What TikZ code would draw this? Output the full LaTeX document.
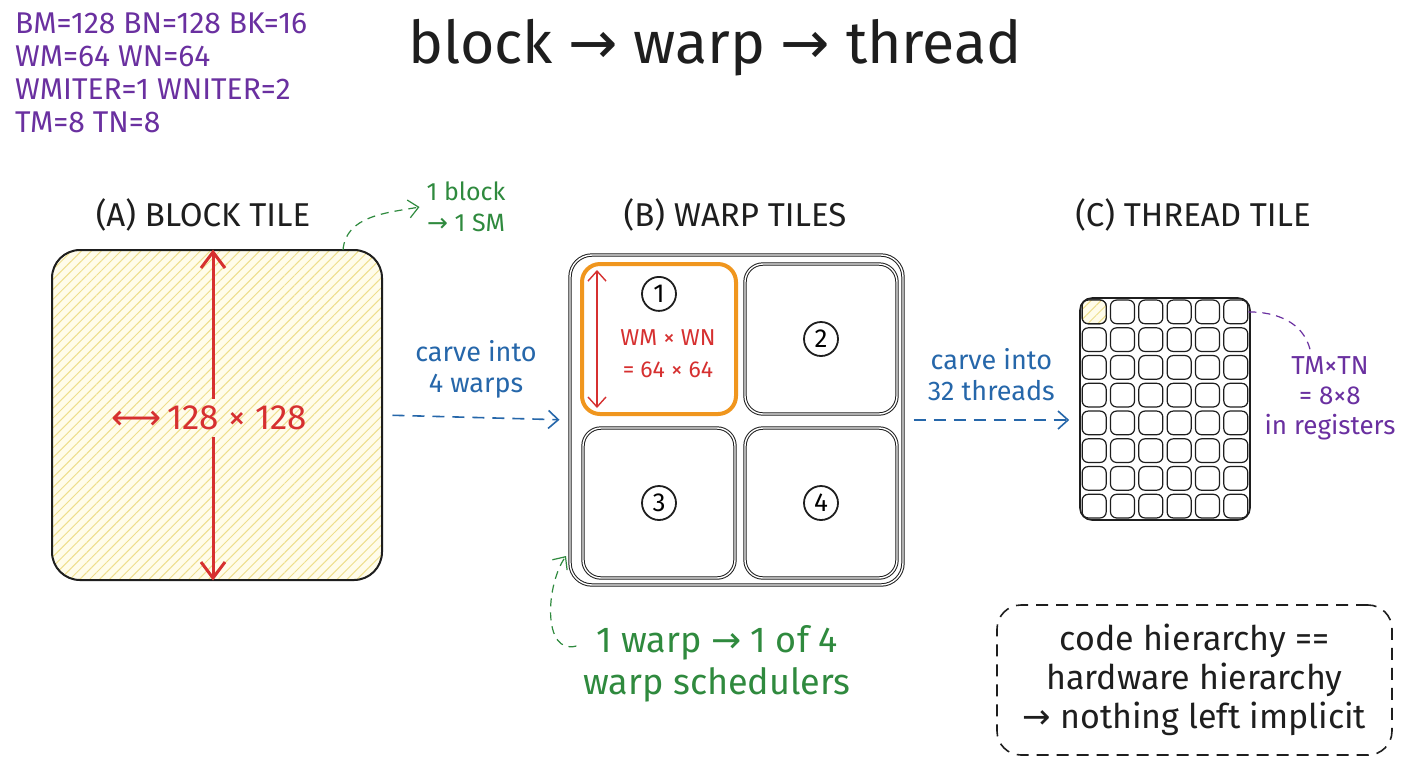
\documentclass[tikz,border=0pt]{standalone}
\usepackage{fontspec}
\setmainfont{Fira Sans}
\newfontfamily\arrowfont{DejaVu Sans}
\newcommand{\toarr}{{\arrowfont →}}
\usepackage{xcolor}
\usetikzlibrary{positioning,calc,arrows.meta,patterns.meta}

\definecolor{inkpurple}{RGB}{106,48,160}
\definecolor{inkgreen}{RGB}{47,138,62}
\definecolor{inkblue}{RGB}{38,103,170}
\definecolor{inkred}{RGB}{214,48,48}
\definecolor{inkorange}{RGB}{240,150,30}
\definecolor{hatch}{RGB}{238,222,140}
\definecolor{paleyellow}{RGB}{255,252,234}
\definecolor{ink}{RGB}{30,30,30}

\begin{document}
\begin{tikzpicture}[x=0.5pt,y=-0.5pt,
    sketch/.style={draw=ink, line width=0.5pt, double=white, double distance=0.7pt},
    hdr/.style={font=\fontsize{16.5}{19}\selectfont, text=ink},
    note/.style={font=\fontsize{13.5}{15.5}\selectfont, align=center},
    numcircle/.style={circle, draw=ink, line width=0.9pt, inner sep=0pt, minimum size=17pt, font=\fontsize{13}{13}\selectfont},
    hatched/.style={preaction={fill=paleyellow}, pattern={Lines[angle=45,distance=3.5pt,line width=0.5pt]}, pattern color=hatch},
    tilebox/.style={sketch, rounded corners=9pt, minimum width=76pt, minimum height=75pt},
    cellbox/.style={draw=ink, line width=0.6pt, rounded corners=3pt, minimum width=12pt, minimum height=11.8pt, inner sep=0pt},
    barb/.style={-{Straight Barb[length=5pt,width=9pt]}},
    carve/.style={draw=inkblue, line width=0.8pt, dash pattern=on 6pt off 4pt, barb, shorten <=5pt, shorten >=5pt},
]
    \useasboundingbox (0,0) rectangle (1408,768);
    \fill[white] (0,0) rectangle (1408,768);

    % parameters and title
    \node[anchor=north west, align=left, text=inkpurple, font=\fontsize{15}{16.5}\selectfont] (params) at (8,6)
        {BM=128 BN=128 BK=16\\WM=64 WN=64\\WMITER=1 WNITER=2\\TM=8 TN=8};
    \node[text=ink, font=\fontsize{29.5}{31}\selectfont] (title) at (715,48) {block \toarr\ warp \toarr\ thread};

    % (A) block tile
    \node[hdr] (hdrA) at (203,215) {(A) BLOCK TILE};
    \node[draw=ink, line width=1pt, rounded corners=14pt, hatched, minimum width=165pt, minimum height=165pt] (blockA) at (217,415) {};
    \node[text=inkred, font=\fontsize{17.5}{19}\selectfont] (dimA) at (209,418) {{\arrowfont ⟷}\,128 × 128};
    \draw[inkred, line width=1.5pt, -{Straight Barb[length=8pt,width=12pt]}] ([xshift=-2pt]dimA.north -| blockA.north) -- ([xshift=-2pt]blockA.north);
    \draw[inkred, line width=1.5pt, -{Straight Barb[length=8pt,width=12pt]}] ([xshift=-2pt]dimA.south -| blockA.south) -- ([xshift=-2pt]blockA.south);

    \node[note, font=\fontsize{12.5}{15.5}\selectfont, text=inkgreen] (oneblock) at (466,207) {1 block\\\toarr\ 1 SM};
    \coordinate (smfrom) at (343,250);
    \draw[inkgreen, line width=0.6pt, dash pattern=on 4pt off 3pt, barb] (smfrom) to[out=85,in=190] (oneblock.west);

    % (B) warp tiles
    \node[hdr] (hdrB) at (735,215) {(B) WARP TILES};
    \node[sketch, rounded corners=11pt, minimum width=166.5pt, minimum height=165pt] (warpB) at (736.5,420) {};
    \node[tilebox, draw=inkorange, double=none, line width=2pt, minimum width=77pt] (tile1) at (659,339) {};
    \node[tilebox] (tile2) at (821,339) {};
    \node[tilebox] (tile3) at (659,503) {};
    \node[tilebox] (tile4) at (821,503) {};
    \node[numcircle, below=7pt of tile1.north] (num1) {1};
    \node[numcircle] (num2) at (tile2) {2};
    \node[numcircle] (num3) at (tile3) {3};
    \node[numcircle] (num4) at (tile4) {4};
    \draw[inkred, line width=0.7pt, {Straight Barb[length=5pt,width=9pt]}-{Straight Barb[length=5pt,width=9pt]}]
        ($(tile1.north west)+(8.5pt,-4pt)$) -- ($(tile1.south west)+(8.5pt,4pt)$);
    \node[note, text=inkred, font=\fontsize{11.5}{16}\selectfont] (dimB) at (668,354) {WM × WN\\= 64 × 64};

    \draw[carve] (blockA.east) -- (warpB.west) node[midway, above=6pt, note, text=inkblue] (carveA) {carve into\\4 warps};

    \node[note, text=inkgreen, font=\fontsize{18}{21}\selectfont] (sched) at (717,664) {1 warp \toarr\ 1 of 4\\warp schedulers};
    \coordinate (schedto) at (566,556);
    \draw[inkgreen, line width=0.6pt, dash pattern=on 4pt off 3pt, barb] ([yshift=9pt]sched.west) to[out=195,in=235] (schedto);

    % (C) thread tile
    \node[hdr] (hdrC) at (1193,215) {(C) THREAD TILE};
    \node[draw=ink, line width=0.8pt, rounded corners=6pt, minimum width=85pt, minimum height=111pt] (threadC) at (1165,409) {};
    \foreach \r in {1,...,8}
        \foreach \c in {1,...,6}
            \node[cellbox] (cell-\r-\c) at ({1080+28.33*(\c-0.5)},{298+27.75*(\r-0.5)}) {};
    \node[cellbox, hatched] (cell-hl) at (cell-1-1) {};

    \draw[carve] (warpB.east) -- (warpB.east -| threadC.west) node[midway, above=6pt, note, text=inkblue] (carveB) {carve into\\32 threads};

    \node[note, text=inkpurple, font=\fontsize{13}{15}\selectfont] (tmtn) at (1330,398) {TM×TN\\= 8×8\\in registers};
    \draw[inkpurple, line width=0.6pt, dash pattern=on 4pt off 3pt] (cell-1-6.east) to[out=0,in=105] ([xshift=-10pt]tmtn.north);

    % takeaway
    \node[draw=ink, line width=0.8pt, dash pattern=on 6pt off 4pt, rounded corners=12pt, minimum width=197.5pt, minimum height=75pt,
          align=center, text=ink, font=\fontsize{17}{19.5}\selectfont] (takeaway) at (1194.5,680)
        {code hierarchy ==\\hardware hierarchy\\\toarr\ nothing left implicit};
\end{tikzpicture}
\end{document}
